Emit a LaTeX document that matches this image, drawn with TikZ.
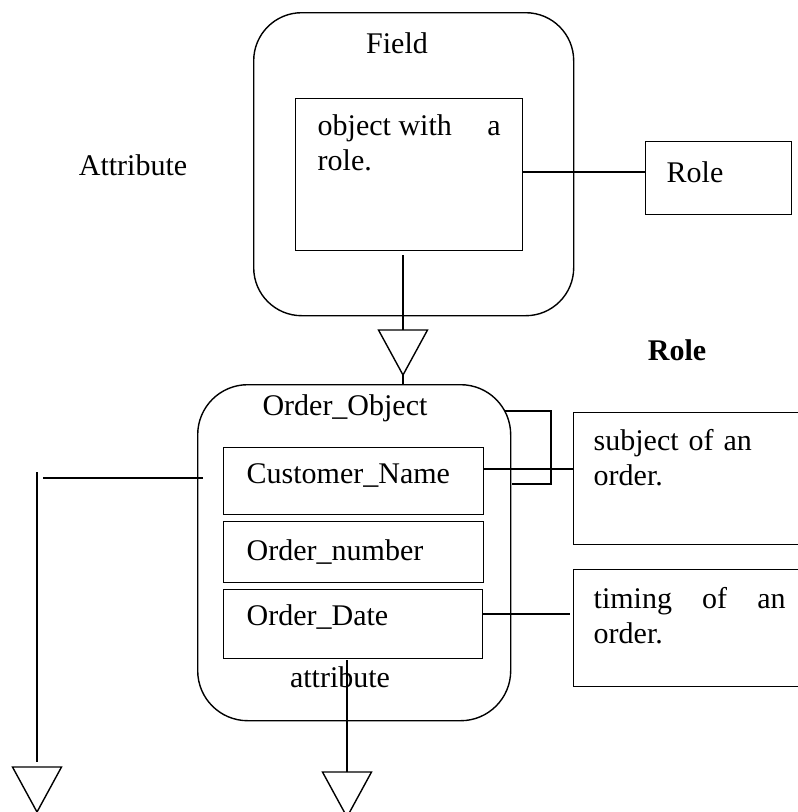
\documentclass[tikz,border=0pt]{standalone}
\usepackage{fontspec}
\setmainfont{Liberation Serif}
\begin{document}
\begin{tikzpicture}[x=1pt,y=-1pt, line width=1.4pt,
  every node/.style={font=\fontsize{30}{35}\selectfont, inner sep=0pt},
  rbox/.style={draw, rounded corners=#1, inner sep=0pt, anchor=north west},
  sqbox/.style={draw, inner sep=0pt, anchor=north west},
  txt/.style={anchor=base west},
  ctxt/.style={anchor=base},
  tri/.pic={\draw (-24.5,0) -- (24.5,0) -- (0,45) -- cycle;}]
\useasboundingbox (0,0) rectangle (798,812);
\clip (0,0) rectangle (798,812);

% boxes
\node[rbox=48pt, minimum width=320pt, minimum height=303pt] (field) at (253,12) {};
\node[sqbox, minimum width=227pt, minimum height=152pt] (obj) at (295,98) {};
\node[sqbox, minimum width=146pt, minimum height=73pt] (role) at (645,141) {};
\node[rbox=50pt, minimum width=313pt, minimum height=336pt] (order) at (197,384) {};
\node[sqbox, minimum width=260pt, minimum height=67pt] (cust) at (223,447) {};
\node[sqbox, minimum width=260pt, minimum height=61pt] (onum) at (223,521) {};
\node[sqbox, minimum width=259pt, minimum height=69pt] (odate) at (223,589) {};
\node[sqbox, minimum width=240pt, minimum height=132pt] (subj) at (573,412) {};
\node[sqbox, minimum width=240pt, minimum height=117pt] (tim) at (573,569) {};

% texts
\node[ctxt] (tfield) at (397,53) {Field};
\node[ctxt] (tattr) at (133,175) {Attribute};
\node[txt, text width=183pt, align=justify] (tobj) at (317,135) {object with\hfill a\\role.};
\node[txt] (trole) at (666,182) {Role};
\node[ctxt, font=\fontsize{30}{35}\selectfont\bfseries] (trolebold) at (677,360) {Role};
\node[ctxt] (torder) at (345,415) {Order\_Object};
\node[txt] (tcust) at (246,483) {Customer\_Name};
\node[txt] (tonum) at (246,560) {Order\_number};
\node[txt] (todate) at (246,625) {Order\_Date};
\node[ctxt] (tattrib) at (340,687) {attribute};
\node[txt, text width=200pt, align=left] (tsubj) at (593,450) {subject of an\\order.};
\node[txt, text width=192pt, align=justify] (ttim) at (593,608) {timing\hfill of\hfill an\\order.};

% connectors
\draw (obj.east |- 0,172) -- (role.west |- 0,172);

\coordinate (t1) at (403,330);
\draw (t1 |- obj.south) ++(0,4) -- (t1);
\pic at (t1) {tri};
\draw (t1) ++(0,45) -- (order.north -| t1);

\coordinate (la) at (505,411);
\coordinate (lb) at (551,411);
\coordinate (lc) at (551,484);
\coordinate (ld) at (512,484);
\draw (la) -- (lb) -- (lc) -- (ld);

\draw (cust.east |- 0,469) -- (subj.west |- 0,469);
\coordinate (dend) at (570,614);
\draw (odate.east |- dend) -- (dend);

\coordinate (hl) at (43,478);
\coordinate (hr) at (203,478);
\draw (hl) -- (hr);
\coordinate (vtop) at (37,472);
\coordinate (t3) at (37,767);
\draw (vtop) -- ([yshift=5pt]t3);
\pic at (t3) {tri};

\coordinate (atop) at (347,660);
\coordinate (t4) at (347,772);
\draw (atop) -- (t4);
\pic at (t4) {tri};
\end{tikzpicture}
\end{document}
